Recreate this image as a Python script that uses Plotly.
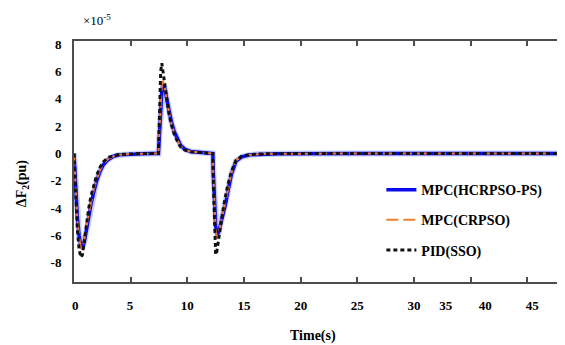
import plotly.graph_objects as go

# ---- data ----
time_s = [0, 0.1, 0.2, 0.3, 0.45, 0.6, 0.75, 0.9, 1.1, 1.3, 1.5, 1.75, 2.0, 2.3, 2.6, 3.0, 3.5, 4.0, 5.0, 6.0, 7.0, 7.4,
          7.45, 7.55, 7.65, 7.75, 7.85, 8.0, 8.2, 8.4, 8.6, 8.85, 9.1, 9.4, 9.8, 10.3, 11.0, 11.6, 12.2, 12.25,
          12.3, 12.4, 12.5, 12.6, 12.75, 12.9, 13.1, 13.35, 13.6, 13.9, 14.3, 14.8, 15.5, 16.5, 18, 25, 35, 50]

mpc_hcrpso_ps = [0, -1.6, -3.3, -4.7, -6.0, -6.7, -6.9, -6.5, -5.6, -4.6, -3.7, -2.8, -2.0, -1.3, -0.8, -0.45, -0.2, -0.1, -0.03, -0.01, 0, 0,
                 0, 1.5, 3.3, 4.6, 5.0, 4.8, 3.9, 3.0, 2.3, 1.6, 1.1, 0.6, 0.3, 0.15, 0.1, 0.07, 0.04, 0,
                 -1.5, -3.8, -5.3, -5.9, -5.8, -5.3, -4.7, -3.8, -2.7, -1.5, -0.55, -0.25, -0.1, -0.04, -0.01, 0, 0, 0]

mpc_crpso = [0, -1.7, -3.4, -4.8, -6.1, -6.9, -7.0, -6.4, -5.4, -4.4, -3.5, -2.6, -1.9, -1.2, -0.75, -0.4, -0.2, -0.1, -0.03, -0.01, 0, 0,
             0, 1.8, 3.8, 5.1, 5.3, 4.9, 3.8, 2.9, 2.2, 1.5, 1.0, 0.55, 0.28, 0.14, 0.09, 0.06, 0.04, 0,
             -1.6, -4.0, -5.6, -6.2, -5.9, -5.3, -4.6, -3.6, -2.6, -1.4, -0.5, -0.22, -0.1, -0.04, -0.01, 0, 0, 0]

pid_sso = [0, -2.0, -4.0, -5.6, -7.0, -7.6, -7.4, -6.4, -5.1, -4.0, -3.1, -2.3, -1.6, -1.0, -0.6, -0.3, -0.15, -0.07, -0.02, 0, 0, 0,
           0, 3.0, 6.0, 6.6, 6.0, 4.9, 3.7, 2.8, 2.1, 1.4, 0.95, 0.5, 0.25, 0.13, 0.08, 0.05, 0.03, 0,
           -2.2, -5.5, -7.4, -7.2, -6.3, -5.4, -4.4, -3.2, -2.2, -1.3, -0.5, -0.2, -0.08, -0.03, -0.01, 0, 0, 0]

series_names = ["MPC(HCRPSO-PS)", "MPC(CRPSO)", "PID(SSO)"]

x_tick_vals = [0, 5, 10, 15, 20, 25, 30, 35, 40, 45]
x_label_vals = [0.1, 4.95, 10, 15, 20, 25, 30, 32.8, 36.3, 40.45]
x_label_text = ["0", "5", "10", "15", "20", "25", "30", "35", "40", "45"]
y_tick_vals = [8, 6, 4, 2, 0, -2, -4, -6, -8]
y_tick_text = ["8", "6", "4", "2", "0", "-2", "-4", "-6", "-8"]

SERIF = "Liberation Serif"
AX = "#4d4d4d"

fig = go.Figure()
# soft halo under the blue line
fig.add_trace(go.Scatter(x=time_s, y=mpc_hcrpso_ps, mode="lines", showlegend=False, hoverinfo="skip",
                         line=dict(color="rgba(40,60,255,0.25)", width=6)))
fig.add_trace(go.Scatter(x=time_s, y=mpc_hcrpso_ps, mode="lines", name=series_names[0], legendgroup="a",
                         line=dict(color="#0a0af0", width=3.5)))
fig.add_trace(go.Scatter(x=time_s, y=mpc_crpso, mode="lines", name=series_names[1], legendgroup="b",
                         line=dict(color="#f07d32", width=2, dash="12px,5px")))
fig.add_trace(go.Scatter(x=time_s, y=pid_sso, mode="lines", name=series_names[2], legendgroup="c",
                         line=dict(color="#111111", width=3, dash="4px,3px")))
# carrier for the tick-label axis
fig.add_trace(go.Scatter(x=[None], y=[None], xaxis="x2", showlegend=False, hoverinfo="skip"))

# the page body has an 8px margin, so the figure is made 8px smaller and shifted back
fig.update_layout(
    width=557, height=337,
    margin=dict(l=66, r=0, t=33, b=63),
    paper_bgcolor="white", plot_bgcolor="white",
    font=dict(family=SERIF, color="black"),
    xaxis=dict(range=[0, 43.33], tickvals=x_tick_vals, showticklabels=False,
               ticks="inside", ticklen=5, tickwidth=1.5, tickcolor=AX,
               showline=True, linecolor=AX, linewidth=2, mirror="ticks",
               showgrid=False, zeroline=False, automargin=False),
    xaxis2=dict(range=[0, 43.33], overlaying="x", anchor="y", side="bottom",
                tickvals=x_label_vals, ticktext=x_label_text, ticks="",
                showline=False, showgrid=False, zeroline=False, ticklabelstandoff=14, automargin=False,
                tickfont=dict(family=SERIF, size=13, weight="bold", color="black")),
    yaxis=dict(range=[-9.4, 8.23], tickvals=y_tick_vals, ticktext=y_tick_text, ticks="",
               showline=True, linecolor=AX, linewidth=2, showgrid=False, zeroline=False,
               ticklabelstandoff=8, automargin=False,
               tickfont=dict(family=SERIF, size=13, weight="bold", color="black")),
    legend=dict(x=0.626, y=0.448, xanchor="left", yanchor="top", bgcolor="rgba(0,0,0,0)",
                tracegroupgap=9, font=dict(family=SERIF, size=14, weight="bold", color="black")),
    annotations=[
        dict(text="×10<sup>-5</sup>", xref="paper", yref="paper", x=0.014, y=1.087,
             xanchor="left", yanchor="middle", showarrow=False,
             font=dict(family=SERIF, size=13, color="black")),
        dict(text="ΔF<sub>2</sub>(pu)", xref="paper", yref="paper", x=-0.106, y=0.41,
             xanchor="center", yanchor="middle", textangle=-90, showarrow=False,
             font=dict(family=SERIF, size=14, weight="bold", color="black")),
        dict(text="Time(s)", xref="paper", yref="paper", x=0.487, y=-0.222,
             xanchor="center", yanchor="middle", showarrow=False,
             font=dict(family=SERIF, size=14, weight="bold", color="black")),
    ],
)

fig.write_html("out.html")
